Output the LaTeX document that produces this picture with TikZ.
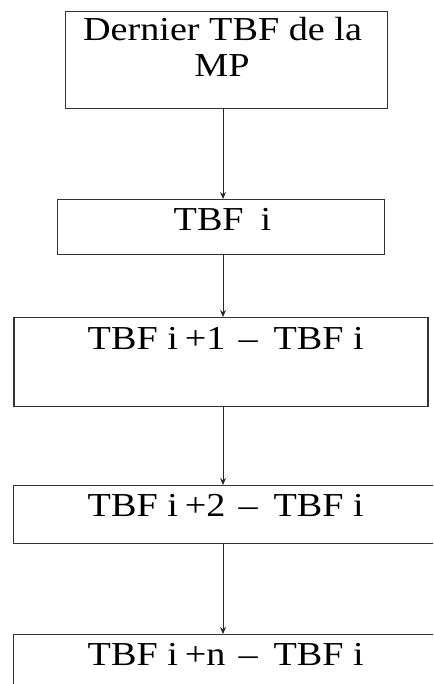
\documentclass[tikz,border=0pt]{standalone}
\usepackage{fontspec}
\setmainfont{Liberation Serif}[FakeStretch=1.14]
\usetikzlibrary{arrows.meta}
\begin{document}
\begin{tikzpicture}[x=1pt,y=-1pt,
  box/.style={draw=black!80, line width=1.2pt, inner sep=0pt, anchor=north west},
  lbl/.style={inner sep=0pt, anchor=base, text=black, font=\fontsize{33.5}{40}\selectfont},
  arr/.style={draw=black!85, line width=1pt, -{Stealth[length=7pt,width=6pt]}}]
\path[use as bounding box] (0,0) rectangle (433,684);
\clip (0,0) rectangle (433,684);
% boxes
\node[box, minimum width=322.3pt, minimum height=97pt] (b1) at (64.7,11) {};
\node[box, minimum width=327.3pt, minimum height=55pt] (b2) at (56.7,199) {};
\node[box, minimum width=414pt, minimum height=89pt] (b3) at (13.3,317) {};
\node[box, minimum width=430pt, minimum height=58pt] (b4) at (12.7,485) {};
\node[box, minimum width=430pt, minimum height=70pt] (b5) at (12.7,634) {};
% texts
\node[lbl] (t1a) at (222.5,40.7) {Dernier TBF de la};
\node[lbl] (t1b) at (222,76.5) {MP};
\node[lbl] (t2) at (222.5,230.7) {TBF\hspace{17pt}i};
\node[lbl] (t3) at (225.8,349) {TBF i\hspace{7pt}+1\hspace{13pt}–\hspace{16pt}TBF i};
\node[lbl] (t4) at (225.8,516.7) {TBF i\hspace{7pt}+2\hspace{13pt}–\hspace{16pt}TBF i};
\node[lbl] (t5) at (225.8,665.7) {TBF i\hspace{7pt}+n\hspace{13pt}–\hspace{16pt}TBF i};
% arrows
\coordinate (ax) at (223,0);
\draw[arr] (b1.south -| ax) -- (b2.north -| ax);
\draw[arr] (b2.south -| ax) -- (b3.north -| ax);
\draw[arr] (b3.south -| ax) -- (b4.north -| ax);
\draw[arr] (b4.south -| ax) -- (b5.north -| ax);
\end{tikzpicture}
\end{document}
